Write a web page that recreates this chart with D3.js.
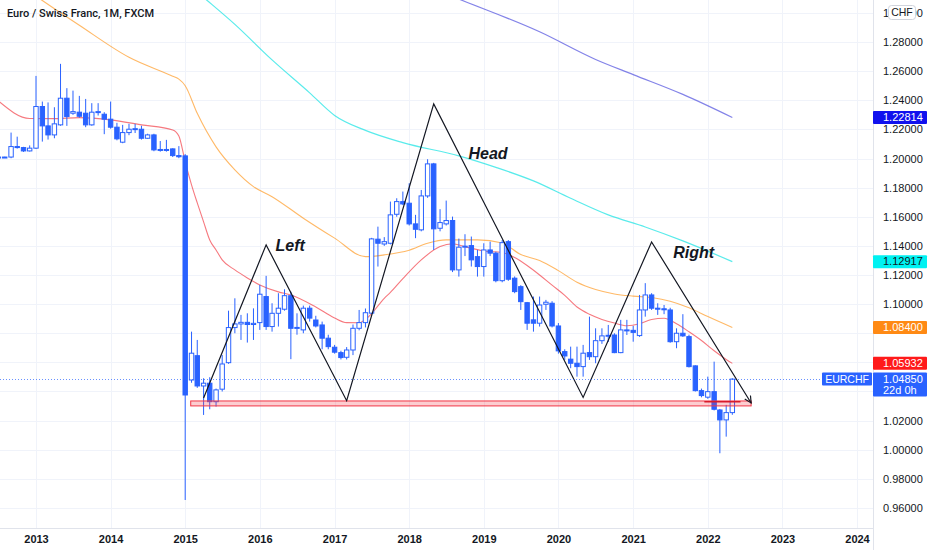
<!DOCTYPE html>
<html>
<head>
<meta charset="utf-8">
<script src="https://cdn.jsdelivr.net/npm/d3@7"></script>
<style>
  body { margin: 0; background: #ffffff; }
  svg { display: block; font-family: "Liberation Sans", Arial, sans-serif; }
</style>
</head>
<body>
<svg id="chart" width="932" height="550"></svg>
<script>
// monthly EUR/CHF candles
var months = [
  "2012-07","2012-08","2012-09","2012-10","2012-11","2012-12",
  "2013-01","2013-02","2013-03","2013-04","2013-05","2013-06","2013-07","2013-08","2013-09","2013-10","2013-11","2013-12",
  "2014-01","2014-02","2014-03","2014-04","2014-05","2014-06","2014-07","2014-08","2014-09","2014-10","2014-11","2014-12",
  "2015-01","2015-02","2015-03","2015-04","2015-05","2015-06","2015-07","2015-08","2015-09","2015-10","2015-11","2015-12",
  "2016-01","2016-02","2016-03","2016-04","2016-05","2016-06","2016-07","2016-08","2016-09","2016-10","2016-11","2016-12",
  "2017-01","2017-02","2017-03","2017-04","2017-05","2017-06","2017-07","2017-08","2017-09","2017-10","2017-11","2017-12",
  "2018-01","2018-02","2018-03","2018-04","2018-05","2018-06","2018-07","2018-08","2018-09","2018-10","2018-11","2018-12",
  "2019-01","2019-02","2019-03","2019-04","2019-05","2019-06","2019-07","2019-08","2019-09","2019-10","2019-11","2019-12",
  "2020-01","2020-02","2020-03","2020-04","2020-05","2020-06","2020-07","2020-08","2020-09","2020-10","2020-11","2020-12",
  "2021-01","2021-02","2021-03","2021-04","2021-05","2021-06","2021-07","2021-08","2021-09","2021-10","2021-11","2021-12",
  "2022-01","2022-02","2022-03","2022-04","2022-05"
];
var opens = [
  1.2010, 1.2008, 1.2010, 1.2082, 1.2075, 1.2052,
  1.2071, 1.2357, 1.2224, 1.2162, 1.2231, 1.2414, 1.2311, 1.2318, 1.2311, 1.2231, 1.2318, 1.2304,
  1.2270, 1.2215, 1.2112, 1.2178, 1.2201, 1.2201, 1.2139, 1.2162, 1.2059, 1.2062, 1.2066, 1.2020,
  1.2018, 1.0479, 1.0646, 1.0438, 1.0457, 1.0330, 1.0416, 1.0598, 1.0839, 1.0864, 1.0875, 1.0860,
  1.0873, 1.1052, 1.0846, 1.0937, 1.0965, 1.1058, 1.0834, 1.0823, 1.0972, 1.0891, 1.0857, 1.0766,
  1.0704, 1.0667, 1.0635, 1.0685, 1.0834, 1.0873, 1.0938, 1.1446, 1.1413, 1.1418, 1.1617, 1.1704,
  1.1693, 1.1551, 1.1510, 1.1743, 1.1963, 1.1521, 1.1551, 1.1574, 1.1235, 1.1391, 1.1402, 1.1326,
  1.1258, 1.1372, 1.1350, 1.1161, 1.1429, 1.1178, 1.1120, 1.1010, 1.0892, 1.0869, 1.0999, 1.1006,
  1.0850, 1.0674, 1.0622, 1.0594, 1.0571, 1.0667, 1.0639, 1.0749, 1.0782, 1.0788, 1.0667, 1.0823,
  1.0820, 1.0784, 1.0960, 1.1063, 1.0972, 1.0968, 1.0960, 1.0742, 1.0800, 1.0777, 1.0576, 1.0406,
  1.0361, 1.0399, 1.0273, 1.0205, 1.0255
];
var highs = [
  1.2014, 1.2012, 1.2178, 1.2150, 1.2080, 1.2090,
  1.2567, 1.2391, 1.2385, 1.2352, 1.2650, 1.2483, 1.2466, 1.2430, 1.2409, 1.2380, 1.2380, 1.2318,
  1.2391, 1.2245, 1.2231, 1.2238, 1.2238, 1.2225, 1.2170, 1.2170, 1.2120, 1.2128, 1.2070, 1.2085,
  1.2030, 1.0811, 1.0754, 1.0491, 1.0498, 1.0420, 1.0651, 1.0955, 1.1040, 1.0926, 1.0937, 1.0971,
  1.1132, 1.1194, 1.1006, 1.1075, 1.1102, 1.1086, 1.0937, 1.0990, 1.0990, 1.0920, 1.0880, 1.0790,
  1.0720, 1.0680, 1.0705, 1.0860, 1.0960, 1.0970, 1.1455, 1.1532, 1.1460, 1.1704, 1.1727, 1.1773,
  1.1830, 1.1613, 1.1784, 1.1995, 1.1970, 1.1652, 1.1711, 1.1601, 1.1450, 1.1480, 1.1464, 1.1372,
  1.1418, 1.1429, 1.1360, 1.1440, 1.1440, 1.1190, 1.1130, 1.1015, 1.1052, 1.1052, 1.1029, 1.1020,
  1.0870, 1.0690, 1.0708, 1.0708, 1.0720, 1.0914, 1.0834, 1.0834, 1.0857, 1.0800, 1.0892, 1.0892,
  1.0850, 1.1063, 1.1144, 1.1075, 1.1006, 1.0994, 1.0975, 1.0834, 1.0931, 1.0790, 1.0580, 1.0420,
  1.0502, 1.0605, 1.0280, 1.0308, 1.0491
];
var lows = [
  1.2005, 1.2004, 1.2002, 1.2068, 1.2045, 1.2048,
  1.2065, 1.2116, 1.2130, 1.2139, 1.2225, 1.2224, 1.2300, 1.2280, 1.2215, 1.2225, 1.2295, 1.2167,
  1.2205, 1.2125, 1.2105, 1.2160, 1.2175, 1.2130, 1.2135, 1.2050, 1.2047, 1.2047, 1.2010, 1.2002,
  0.9655, 1.0460, 1.0425, 1.0239, 1.0278, 1.0296, 1.0400, 1.0590, 1.0800, 1.0754, 1.0736, 1.0754,
  1.0823, 1.0823, 1.0811, 1.0846, 1.0955, 1.0622, 1.0790, 1.0800, 1.0880, 1.0840, 1.0690, 1.0690,
  1.0660, 1.0620, 1.0620, 1.0650, 1.0820, 1.0840, 1.0930, 1.1258, 1.1400, 1.1410, 1.1600, 1.1680,
  1.1540, 1.1453, 1.1500, 1.1730, 1.1372, 1.1500, 1.1540, 1.1220, 1.1189, 1.1330, 1.1258, 1.1189,
  1.1189, 1.1330, 1.1150, 1.1150, 1.1160, 1.1075, 1.0960, 1.0823, 1.0811, 1.0846, 1.0960, 1.0840,
  1.0660, 1.0617, 1.0560, 1.0502, 1.0502, 1.0617, 1.0594, 1.0727, 1.0740, 1.0663, 1.0663, 1.0788,
  1.0742, 1.0775, 1.0914, 1.0960, 1.0926, 1.0931, 1.0735, 1.0697, 1.0775, 1.0565, 1.0400, 1.0360,
  1.0350, 1.0270, 0.9976, 1.0090, 1.0240
];
var closes = [
  1.2008, 1.2010, 1.2082, 1.2075, 1.2052, 1.2071,
  1.2357, 1.2224, 1.2162, 1.2238, 1.2414, 1.2288, 1.2322, 1.2290, 1.2231, 1.2318, 1.2322, 1.2270,
  1.2215, 1.2135, 1.2178, 1.2201, 1.2205, 1.2139, 1.2162, 1.2059, 1.2062, 1.2060, 1.2020, 1.2012,
  1.0376, 1.0663, 1.0438, 1.0457, 1.0330, 1.0411, 1.0589, 1.0839, 1.0864, 1.0875, 1.0860, 1.0868,
  1.1068, 1.0846, 1.0937, 1.0972, 1.1058, 1.0834, 1.0840, 1.0972, 1.0904, 1.0850, 1.0766, 1.0708,
  1.0670, 1.0633, 1.0685, 1.0834, 1.0873, 1.0941, 1.1448, 1.1418, 1.1429, 1.1613, 1.1704, 1.1688,
  1.1551, 1.1514, 1.1743, 1.1963, 1.1517, 1.1560, 1.1574, 1.1235, 1.1391, 1.1398, 1.1304, 1.1258,
  1.1372, 1.1350, 1.1161, 1.1422, 1.1171, 1.1086, 1.1017, 1.0869, 1.0869, 1.0994, 1.1013, 1.0850,
  1.0679, 1.0644, 1.0594, 1.0571, 1.0663, 1.0639, 1.0749, 1.0782, 1.0786, 1.0667, 1.0823, 1.0820,
  1.0806, 1.0960, 1.1063, 1.0972, 1.0968, 1.0962, 1.0742, 1.0800, 1.0782, 1.0571, 1.0406, 1.0372,
  1.0399, 1.0278, 1.0205, 1.0255, 1.0485
];

// moving averages
var redMaMonths = ["2012-07","2012-12","2013-04","2013-08","2014-01","2014-06","2014-11","2014-12","2015-01","2015-02","2015-03","2015-04","2015-05","2015-06","2015-07","2015-09","2015-11","2016-01","2016-04","2016-06","2016-10","2017-01","2017-03","2017-05","2017-06","2017-07","2017-09","2017-10","2017-12","2018-03","2018-06","2018-08","2018-10","2019-01","2019-04","2019-06","2019-08","2019-10","2019-12","2020-02","2020-04","2020-06","2020-08","2020-10","2020-12","2021-02","2021-04","2021-06","2021-08","2021-10","2021-12","2022-02","2022-04","2022-05"];
var redMaValues = [1.2395, 1.2275, 1.2274, 1.2281, 1.2265, 1.2231, 1.2196, 1.2155, 1.1977, 1.1819, 1.1695, 1.1565, 1.1441, 1.1372, 1.1304, 1.1235, 1.1180, 1.1132, 1.1084, 1.1063, 1.0981, 1.0905, 1.0873, 1.0872, 1.0895, 1.0935, 1.1040, 1.1080, 1.1175, 1.1304, 1.1395, 1.1415, 1.1395, 1.1365, 1.1355, 1.1320, 1.1265, 1.1200, 1.1130, 1.1060, 1.0980, 1.0930, 1.0895, 1.0870, 1.0852, 1.0865, 1.0895, 1.0903, 1.0865, 1.0810, 1.0750, 1.0680, 1.0620, 1.05932];

var orangeMaMonths = ["2012-07","2013-02","2013-08","2014-04","2014-11","2014-12","2015-01","2015-03","2015-06","2015-09","2015-12","2016-03","2016-08","2017-01","2017-06","2017-09","2018-01","2018-04","2018-07","2018-12","2019-04","2019-07","2019-10","2020-01","2020-04","2020-07","2020-10","2021-01","2021-04","2021-07","2021-10","2022-01","2022-05"];
var orangeMaValues = [1.3300, 1.3085, 1.2915, 1.2695, 1.2565, 1.2545, 1.2500, 1.2310, 1.2080, 1.1922, 1.1807, 1.1738, 1.1590, 1.1453, 1.1326, 1.1338, 1.1370, 1.1418, 1.1441, 1.1441, 1.1420, 1.1340, 1.1300, 1.1230, 1.1150, 1.1100, 1.1070, 1.1055, 1.1045, 1.1020, 1.0975, 1.0915, 1.0840];

var cyanMaMonths = ["2014-12","2015-04","2015-09","2016-03","2016-09","2017-01","2017-06","2017-12","2018-09","2019-03","2019-09","2020-03","2020-09","2021-03","2021-09","2022-05"];
var cyanMaValues = [1.3250, 1.3106, 1.2921, 1.2677, 1.2451, 1.2296, 1.2193, 1.2109, 1.2018, 1.1939, 1.1846, 1.1727, 1.1613, 1.1530, 1.1434, 1.12917];

var purpleMaMonths = ["2018-03","2018-09","2019-10","2020-07","2021-01","2021-09","2022-05"];
var purpleMaValues = [1.3200, 1.3095, 1.2870, 1.2680, 1.2576, 1.2440, 1.22814];

// head and shoulders drawing
var patternDates = ["2015-04-01","2016-02-01","2017-03-01","2018-05-01","2020-05-01","2021-04-01","2022-08-01"];
var patternPrices = [1.0356, 1.1407, 1.0337, 1.2375, 1.0359, 1.1427, 1.0321];
var patternLabels = ["Left", "Head", "Right"];
var labelDates = ["2016-03-18", "2018-10-18", "2021-07-16"];
var labelPrices = [1.1365, 1.1997, 1.1317];
var zoneDates = ["2015-01-28", "2022-08-01"];
var zonePrices = [1.0301, 1.0335];
var rayDates = ["2021-12-15", "2022-06-10"];
var rayPrice = 1.0330;

var priceTicks = [0.96, 0.98, 1.00, 1.02, 1.04, 1.06, 1.08, 1.10, 1.12, 1.14, 1.16, 1.18, 1.20, 1.22, 1.24, 1.26, 1.28, 1.30];
var yearTicks = ["2013","2014","2015","2016","2017","2018","2019","2020","2021","2022","2023","2024"];

var title = "Euro / Swiss Franc, 1M, FXCM";
var symbol = "EURCHF";
var countdown = "22d 0h";
var currency = "CHF";

var blue = "#2962ff";
var plotRight = 873;
var plotBottom = 528;

var parseMonth = d3.timeParse("%Y-%m");
var parseDay = d3.timeParse("%Y-%m-%d");
var parseYear = d3.timeParse("%Y");

var svg = d3.select("#chart");

var x = d3.scaleTime()
    .domain([parseMonth("2013-01"), parseMonth("2024-01")])
    .range([36, 857]);

var y = d3.scaleLinear()
    .domain([0.96, 1.28])
    .range([508, 42]);

// tag values on the price scale (they hide the tick labels they sit on)
var lastClose = closes[closes.length - 1];
var tagValues = [
    purpleMaValues[purpleMaValues.length - 1],
    cyanMaValues[cyanMaValues.length - 1],
    orangeMaValues[orangeMaValues.length - 1],
    redMaValues[redMaValues.length - 1]
];

svg.append("defs").append("clipPath")
    .attr("id", "plot-clip")
  .append("rect")
    .attr("x", 0).attr("y", 0)
    .attr("width", plotRight).attr("height", plotBottom);

svg.select("defs").append("marker")
    .attr("id", "arrow")
    .attr("viewBox", "0 0 10 10")
    .attr("refX", 9).attr("refY", 5)
    .attr("markerWidth", 7).attr("markerHeight", 7)
    .attr("orient", "auto")
  .append("path")
    .attr("d", "M1,1 L9,5 L1,9")
    .style("fill", "none")
    .style("stroke", "#131722")
    .style("stroke-width", 1.4);

drawGrid();
var plot = svg.append("g").attr("clip-path", "url(#plot-clip)");
drawAverages();
drawCandles();
drawPattern();
drawAxes();
drawPriceTags();

function drawGrid(){
    var grid = svg.append("g").attr("class", "grid");
    grid.selectAll("line.h")
        .data(priceTicks)
        .join("line")
        .attr("class", "h")
        .attr("x1", 0).attr("x2", plotRight)
        .attr("y1", d => Math.round(y(d)) + 0.5)
        .attr("y2", d => Math.round(y(d)) + 0.5)
        .style("stroke", "#f0f3fa");
    grid.selectAll("line.v")
        .data(yearTicks)
        .join("line")
        .attr("class", "v")
        .attr("x1", d => Math.round(x(parseYear(d))) + 0.5)
        .attr("x2", d => Math.round(x(parseYear(d))) + 0.5)
        .attr("y1", 0).attr("y2", plotBottom)
        .style("stroke", "#f0f3fa");
}

function maLine(monthsArr, valuesArr, color, opacity, widthPx){
    var pts = monthsArr.map((m, i) => [parseMonth(m), valuesArr[i]]);
    plot.append("path")
        .datum(pts)
        .attr("d", d3.line()
            .x(d => x(d[0]))
            .y(d => y(d[1]))
            .curve(d3.curveMonotoneX))
        .style("fill", "none")
        .style("stroke", color)
        .style("stroke-opacity", opacity)
        .style("stroke-width", widthPx);
}

function drawAverages(){
    maLine(purpleMaMonths, purpleMaValues, "#3030d8", 0.6, 1.2);
    maLine(cyanMaMonths, cyanMaValues, "#00e0e0", 0.65, 1.2);
    maLine(orangeMaMonths, orangeMaValues, "#ff8a00", 0.6, 1.1);
    maLine(redMaMonths, redMaValues, "#f0202a", 0.6, 1.1);
}

function drawCandles(){
    var bodyW = 4.4;
    var candles = months.map((m, i) => ({
        date: parseMonth(m), o: opens[i], h: highs[i], l: lows[i], c: closes[i]
    }));
    var g = plot.append("g").attr("class", "candles");
    g.selectAll("line")
        .data(candles)
        .join("line")
        .attr("x1", d => x(d.date)).attr("x2", d => x(d.date))
        .attr("y1", d => y(d.h)).attr("y2", d => y(d.l))
        .style("stroke", blue)
        .style("stroke-width", 1);
    g.selectAll("rect")
        .data(candles)
        .join("rect")
        .attr("x", d => x(d.date) - bodyW / 2)
        .attr("y", d => y(Math.max(d.o, d.c)))
        .attr("width", bodyW)
        .attr("height", d => Math.max(1, Math.abs(y(d.o) - y(d.c))))
        .style("fill", d => d.c >= d.o ? "#ffffff" : blue)
        .style("stroke", blue)
        .style("stroke-width", 1);
}

function drawPattern(){
    // neckline zone
    plot.append("rect")
        .attr("x", x(parseDay(zoneDates[0])))
        .attr("y", y(zonePrices[1]))
        .attr("width", x(parseDay(zoneDates[1])) - x(parseDay(zoneDates[0])))
        .attr("height", y(zonePrices[0]) - y(zonePrices[1]))
        .style("fill", "#f23645")
        .style("fill-opacity", 0.25)
        .style("stroke", "#f23645")
        .style("stroke-width", 1);
    plot.append("line")
        .attr("x1", x(parseDay(rayDates[0]))).attr("x2", x(parseDay(rayDates[1])))
        .attr("y1", y(rayPrice)).attr("y2", y(rayPrice))
        .style("stroke", "#d81b2a")
        .style("stroke-width", 1.5);

    var pts = patternDates.map((d, i) => [parseDay(d), patternPrices[i]]);
    plot.append("path")
        .datum(pts)
        .attr("d", d3.line().x(d => x(d[0])).y(d => y(d[1])))
        .attr("marker-end", "url(#arrow)")
        .style("fill", "none")
        .style("stroke", "#131722")
        .style("stroke-width", 1.2);

    plot.selectAll("text.pattern")
        .data(patternLabels)
        .join("text")
        .attr("class", "pattern")
        .attr("x", (d, i) => x(parseDay(labelDates[i])))
        .attr("y", (d, i) => y(labelPrices[i]))
        .style("font-size", "16px")
        .style("font-weight", "bold")
        .style("font-style", "italic")
        .style("fill", "#131722")
        .text(d => d);

    // current price dotted line
    plot.append("line")
        .attr("x1", 0).attr("x2", 822)
        .attr("y1", Math.round(y(lastClose)) + 0.5)
        .attr("y2", Math.round(y(lastClose)) + 0.5)
        .style("stroke", blue)
        .style("stroke-opacity", 0.7)
        .style("stroke-dasharray", "1,2");
}

function hiddenByTag(v){
    // a tick label is dropped when a price tag covers most of it
    for(var i = 0; i < tagValues.length; i++){
        if(Math.abs(y(v) - y(tagValues[i])) < 9) return true;
    }
    var d = y(v) - y(lastClose);
    return d > -9 && d < 20;
}

function drawAxes(){
    svg.append("line")
        .attr("x1", plotRight + 0.5).attr("x2", plotRight + 0.5)
        .attr("y1", 0).attr("y2", 550)
        .style("stroke", "#e0e3eb");
    svg.append("line")
        .attr("x1", 0).attr("x2", plotRight)
        .attr("y1", plotBottom + 0.5).attr("y2", plotBottom + 0.5)
        .style("stroke", "#e0e3eb");

    var yAxis = svg.append("g")
        .attr("transform", "translate(" + plotRight + ",0)")
        .call(d3.axisRight(y)
            .tickValues(priceTicks.filter(v => !hiddenByTag(v)))
            .tickSize(0)
            .tickPadding(10)
            .tickFormat(d3.format(".5f")));
    yAxis.select(".domain").remove();
    yAxis.selectAll("text")
        .style("font-size", "11px")
        .style("font-family", "Liberation Sans, Arial, sans-serif")
        .style("fill", "#131722");

    var xAxis = svg.append("g")
        .attr("transform", "translate(0," + plotBottom + ")")
        .call(d3.axisBottom(x)
            .tickValues(yearTicks.map(parseYear))
            .tickSize(0)
            .tickPadding(7)
            .tickFormat(d3.timeFormat("%Y")));
    xAxis.select(".domain").remove();
    xAxis.selectAll("text")
        .style("font-size", "11px")
        .style("font-weight", "bold")
        .style("font-family", "Liberation Sans, Arial, sans-serif")
        .style("fill", "#131722");

    svg.append("text")
        .attr("x", 7)
        .attr("y", 17)
        .style("font-family", "Roboto, sans-serif")
        .style("font-size", "11px")
        .style("font-weight", "500")
        .style("fill", "#131722")
        .text(title);
}

function priceTag(value, bg, fg){
    var yy = y(value);
    svg.append("rect")
        .attr("x", plotRight).attr("y", yy - 6.5)
        .attr("width", 54).attr("height", 13)
        .attr("rx", 1)
        .style("fill", bg);
    svg.append("text")
        .attr("x", plotRight + 10).attr("y", yy)
        .attr("dy", "0.35em")
        .style("font-size", "11px")
        .style("fill", fg)
        .text(d3.format(".5f")(value));
}

function drawPriceTags(){
    priceTag(tagValues[0], "#1111ee", "#ffffff");
    priceTag(tagValues[1], "#00f2f2", "#131722");
    priceTag(tagValues[2], "#ff8a14", "#ffffff");
    priceTag(tagValues[3], "#ff1a1a", "#ffffff");

    var yy = y(lastClose);
    svg.append("rect")
        .attr("x", plotRight).attr("y", yy - 6.5)
        .attr("width", 54).attr("height", 24)
        .attr("rx", 1)
        .style("fill", blue);
    svg.append("text")
        .attr("x", plotRight + 10).attr("y", yy)
        .attr("dy", "0.35em")
        .style("font-size", "11px")
        .style("fill", "#ffffff")
        .text(d3.format(".5f")(lastClose));
    svg.append("text")
        .attr("x", plotRight + 10).attr("y", yy + 11)
        .attr("dy", "0.35em")
        .style("font-size", "11px")
        .style("fill", "#ffffff")
        .text(countdown);

    svg.append("rect")
        .attr("x", 822).attr("y", yy - 6.5)
        .attr("width", 50).attr("height", 13)
        .attr("rx", 1)
        .style("fill", blue);
    svg.append("text")
        .attr("x", 847).attr("y", yy)
        .attr("dy", "0.35em")
        .attr("text-anchor", "middle")
        .style("font-size", "10.5px")
        .style("fill", "#ffffff")
        .text(symbol);

    svg.append("rect")
        .attr("x", 888.5).attr("y", 5.5)
        .attr("width", 27).attr("height", 14)
        .attr("rx", 3)
        .style("fill", "#ffffff")
        .style("stroke", "#d1d4dc");
    svg.append("text")
        .attr("x", 902).attr("y", 12.5)
        .attr("dy", "0.35em")
        .attr("text-anchor", "middle")
        .style("font-size", "10.5px")
        .style("fill", "#131722")
        .text(currency);
}
</script>
</body>
</html>
